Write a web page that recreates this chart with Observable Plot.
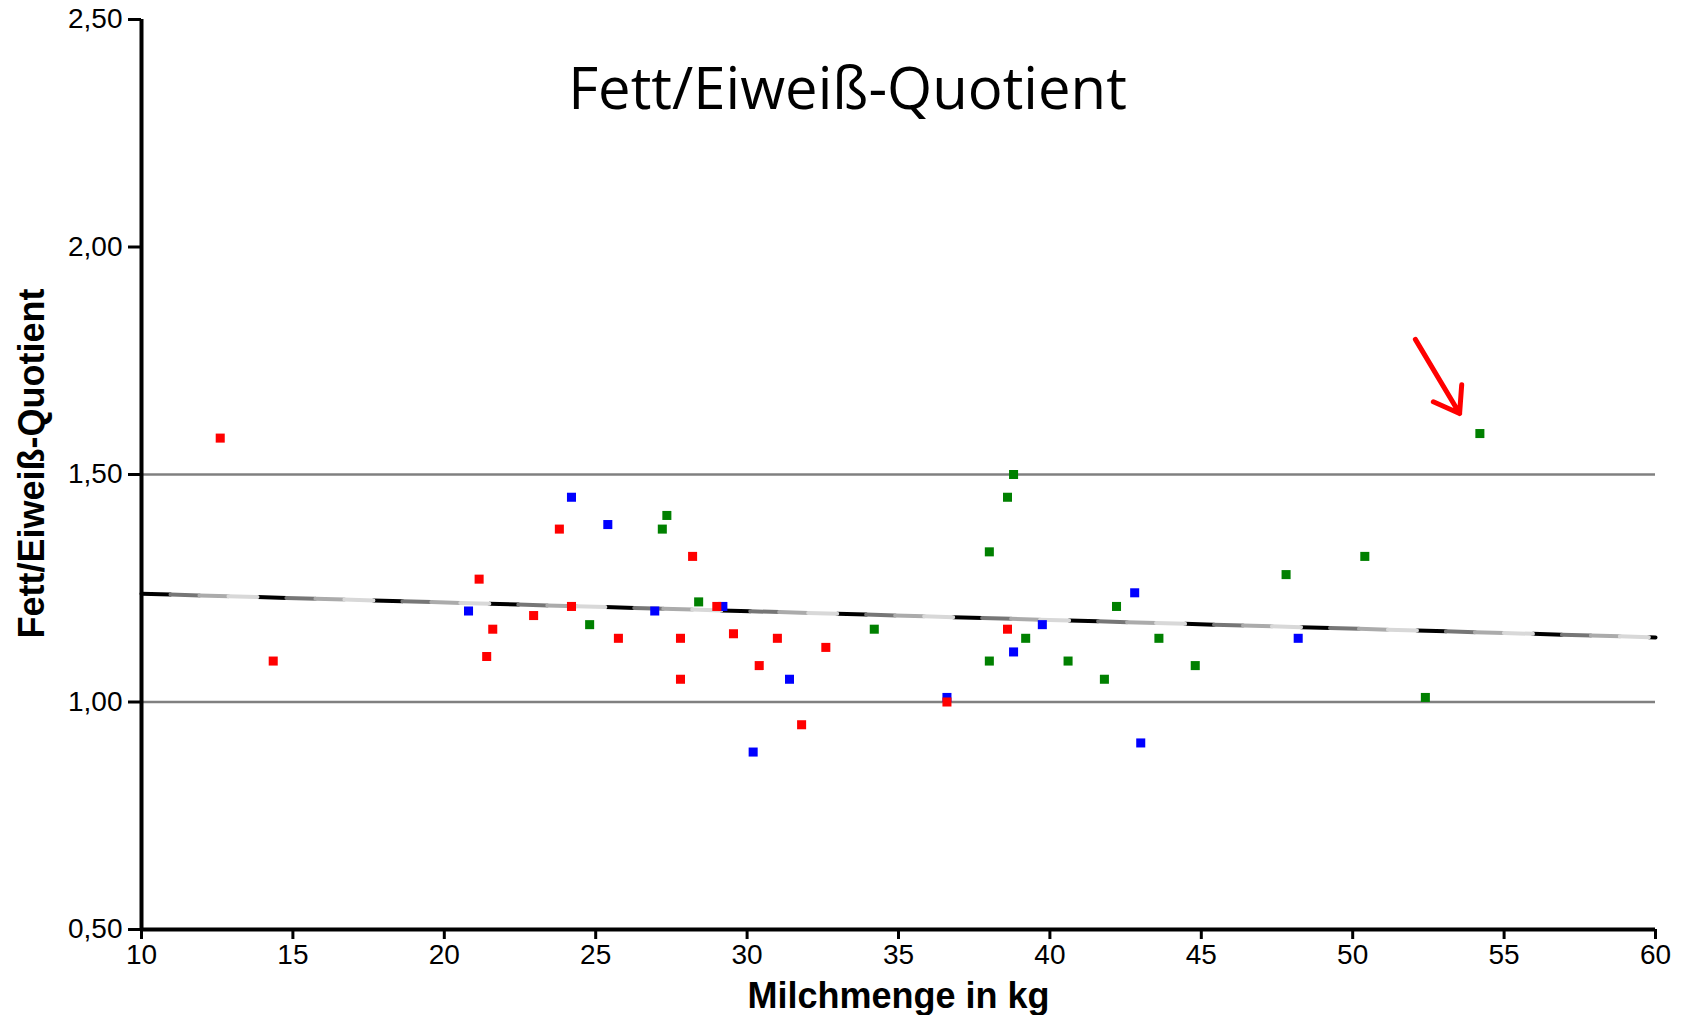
<!DOCTYPE html>
<html>
<head>
<meta charset="utf-8">
<script src="https://cdn.jsdelivr.net/npm/d3@7"></script>
<script src="https://cdn.jsdelivr.net/npm/@observablehq/plot@0.6"></script>
<style>
  html, body { margin: 0; padding: 0; background: #fff; }
  #chart svg { display: block; }
</style>
</head>
<body>
<div id="chart"></div>
<script>
// ---- Texts ----
const chartTitle = "Fett/Eiweiß-Quotient";
const xLabel = "Milchmenge in kg";
const yLabel = "Fett/Eiweiß-Quotient";

// ---- Axis ticks ----
const xTicks = [10, 15, 20, 25, 30, 35, 40, 45, 50, 55, 60];
const yTicks = [0.5, 1.0, 1.5, 2.0, 2.5];

// ---- Reference lines ----
const refLines = [1.0, 1.5];

// ---- Trend line (regression) ----
const trendX = [10, 60];
const trendY = [1.238, 1.142];

// ---- Annotation arrow ----
const arrowX1 = [52.07];
const arrowY1 = [1.797];
const arrowX2 = [53.53];
const arrowY2 = [1.634];

// ---- Series: red ----
const redX = [12.6, 14.35, 21.15, 21.4, 21.6, 22.95, 23.8, 24.2, 25.75, 27.8, 27.8, 28.2, 29.0, 29.55, 30.4, 31.0, 31.8, 32.6, 36.6, 38.6];
const redY = [1.58, 1.09, 1.27, 1.10, 1.16, 1.19, 1.38, 1.21, 1.14, 1.14, 1.05, 1.32, 1.21, 1.15, 1.08, 1.14, 0.95, 1.12, 1.00, 1.16];

// ---- Series: blue ----
const blueX = [20.8, 24.2, 25.4, 26.95, 29.2, 30.2, 31.4, 36.6, 38.8, 39.75, 42.8, 43.0, 48.2];
const blueY = [1.20, 1.45, 1.39, 1.20, 1.21, 0.89, 1.05, 1.01, 1.11, 1.17, 1.24, 0.91, 1.14];

// ---- Series: green ----
const greenX = [24.8, 27.2, 27.35, 28.4, 34.2, 38.0, 38.0, 38.6, 38.8, 39.2, 40.6, 41.8, 42.2, 43.6, 44.8, 47.8, 50.4, 52.4, 54.2];
const greenY = [1.17, 1.38, 1.41, 1.22, 1.16, 1.33, 1.09, 1.45, 1.50, 1.14, 1.09, 1.05, 1.21, 1.14, 1.08, 1.28, 1.32, 1.01, 1.59];

const fmtComma = d => d.toFixed(2).replace(".", ",");
const dotOpts = {symbol: "square", r: 5.1};

// trend line drawn as four overlaid dash series (black / dark grey / grey / light grey)
const trendShades = ["#000000", "#767676", "#ababab", "#d8d8d8"];
const trendMarks = trendShades.map((c, i) =>
  Plot.line(trendX, {x: trendX, y: trendY, stroke: c, strokeWidth: 4,
    strokeDasharray: "29,87", strokeDashoffset: -29 * i})
);

const chart = Plot.plot({
  width: 1682,
  height: 1015,
  marginLeft: 141,
  marginRight: 27,
  marginTop: 19,
  marginBottom: 86,
  style: {fontFamily: "'Liberation Sans', Arial, sans-serif", background: "#fff", color: "#000", overflow: "visible"},
  x: {domain: [10, 60]},
  y: {domain: [0.5, 2.5]},
  marks: [
    Plot.ruleY(refLines, {stroke: "#808080", strokeWidth: 2.5}),
    ...trendMarks,
    Plot.dot(blueX, {x: blueX, y: blueY, fill: "#0000ff", ...dotOpts}),
    Plot.dot(greenX, {x: greenX, y: greenY, fill: "#008000", ...dotOpts}),
    Plot.dot(redX, {x: redX, y: redY, fill: "#ff0000", ...dotOpts}),
    Plot.arrow(arrowX1, {x1: arrowX1, y1: arrowY1, x2: arrowX2, y2: arrowY2,
      stroke: "#ff0000", strokeWidth: 5, headLength: 24, headAngle: 70}),
    Plot.ruleX([10], {stroke: "#000", strokeWidth: 4}),
    Plot.ruleY([0.5], {stroke: "#000", strokeWidth: 4}),
    Plot.axisX({ticks: xTicks, tickSize: 10, tickPadding: 5, fontSize: 28,
      strokeWidth: 3, label: null, tickFormat: d => String(d)}),
    Plot.axisY({ticks: yTicks, tickSize: 13, tickPadding: 6, fontSize: 28,
      strokeWidth: 3, label: null, tickFormat: fmtComma}),
    Plot.text([chartTitle], {frameAnchor: "top", dx: -51, dy: 71, text: d => d,
      fontSize: 58, fontFamily: "'Open Sans', sans-serif", fill: "#000", lineAnchor: "middle"}),
    Plot.text([xLabel], {frameAnchor: "bottom", dy: 67, text: d => d,
      fontSize: 36, fontWeight: "bold", fill: "#000", lineAnchor: "middle"}),
    Plot.text([yLabel], {frameAnchor: "left", rotate: -90, dx: -109, dy: -11, text: d => d,
      textAnchor: "middle", fontSize: 36, fontWeight: "bold", fill: "#000", lineAnchor: "middle"})
  ]
});

document.getElementById("chart").appendChild(chart);
</script>
</body>
</html>
